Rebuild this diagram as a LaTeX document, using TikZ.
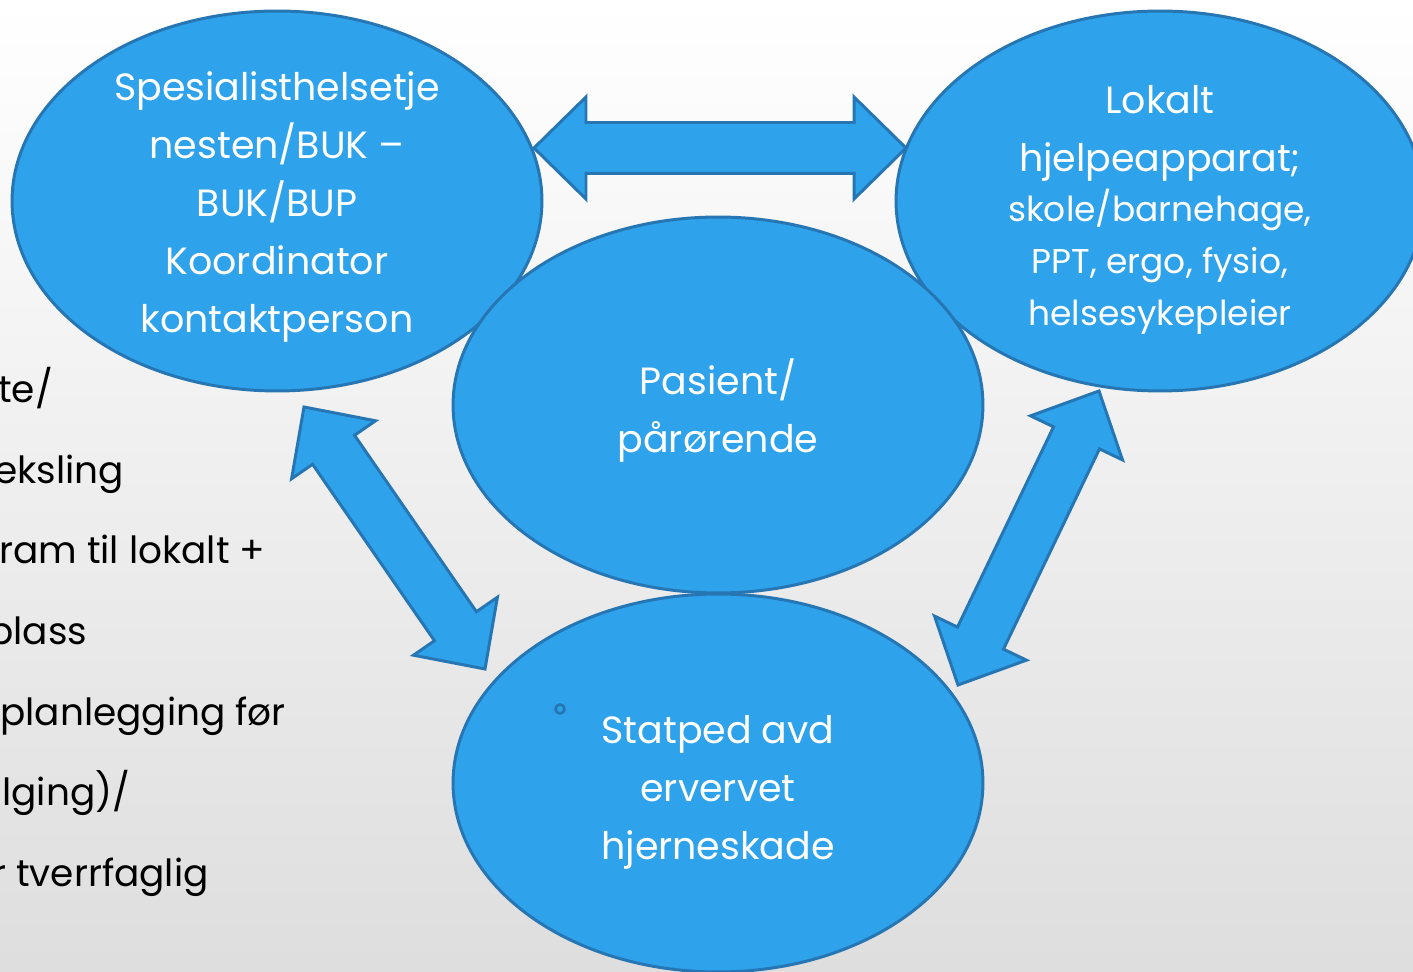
\documentclass[tikz,border=0pt]{standalone}
\usepackage{fontspec}
\setmainfont{Poppins}
\usetikzlibrary{shapes.geometric,calc,positioning}

\definecolor{bubblefill}{HTML}{2FA2EC}
\definecolor{bubbleline}{HTML}{2676B3}

\tikzset{
  bubble/.style={ellipse, draw=bubbleline, fill=bubblefill, line width=1.7pt,
                 inner sep=0pt, minimum width=10.6cm, minimum height=7.6cm},
  bubbletext/.style={text=white, align=center, inner sep=0pt,
                     font=\fontsize{21.6}{33}\selectfont},
  smalltext/.style={text=white, align=center, inner sep=0pt,
                    font=\fontsize{19.6}{29.6}\selectfont},
  sidetext/.style={text=black, anchor=base west, inner sep=0pt,
                   font=\fontsize{21.3}{24}\selectfont},
  arrowbody/.style={draw=bubbleline, fill=bubblefill, line width=1.7pt},
}

% double block arrow from tip #1 to tip #2
\newcommand{\dblarrow}[2]{%
  \draw[arrowbody] (#1)
    -- ($(#1)!1.04cm!(#2)!1.02cm!90:(#2)$)
    -- ($(#1)!1.04cm!(#2)!0.51cm!90:(#2)$)
    -- ($(#2)!1.04cm!(#1)!0.51cm!-90:(#1)$)
    -- ($(#2)!1.04cm!(#1)!1.02cm!-90:(#1)$)
    -- (#2)
    -- ($(#2)!1.04cm!(#1)!1.02cm!90:(#1)$)
    -- ($(#2)!1.04cm!(#1)!0.51cm!90:(#1)$)
    -- ($(#1)!1.04cm!(#2)!0.51cm!-90:(#2)$)
    -- ($(#1)!1.04cm!(#2)!1.02cm!-90:(#2)$)
    -- cycle;}

\begin{document}
\begin{tikzpicture}[x=0.02cm, y=0.02cm]
  \useasboundingbox (0,0) rectangle (1413,971);
  \shade[top color=white, bottom color=black!13] (0,0) rectangle (1413,971);

  % text on the left, cut by the page edge
  \foreach \txt/\dx [count=\i] in {{te/}/-2, {eksling}/-6, {ram til lokalt +}/-1,
      {plass}/-12, {planlegging før}/0, {lging)/}/2, {r tverrfaglig}/-8}
    \node[sidetext] (side\i) at (\dx, {971-403-80.5*(\i-1)}) {\txt};

  % the four parties
  \node[bubble] (spes) at (277,770) {};
  \node[bubble, minimum width=10.56cm] (lokalt) at (1160,770) {};
  \node[bubble, minimum height=7.52cm] (pasient) at (718,566) {};
  \node[bubble, minimum height=7.56cm] (statped) at (718,188) {};

  \node[bubbletext] (spestext) at (277,764)
    {Spesialisthelsetje\\nesten/BUK –\\BUK/BUP\\Koordinator\\kontaktperson};
  \node[bubbletext] (lokalttext) at (1160,838) {Lokalt\\hjelpeapparat;};
  \node[smalltext] (lokaltlist) at (1160,709)
    {skole/barnehage,\\PPT, ergo, fysio,\\helsesykepleier};
  \node[bubbletext] (pasienttext) at (718,560) {Pasient/\\pårørende};
  \node[bubbletext] (statpedtext) at (718,179) {Statped avd\\ervervet\\hjerneskade};
  \node[circle, draw=bubbleline, line width=1.5pt, minimum size=0.18cm,
        inner sep=0pt] (bullet) at (560,262) {};

  % arrow tips
  \coordinate (spesR) at (534,823);
  \coordinate (lokaltL) at (906,823);
  \coordinate (spesB) at (304,564);
  \coordinate (statpedL) at (485,302);
  \coordinate (lokaltB) at (1099,580);
  \coordinate (statpedR) at (958,286);

  \dblarrow{spesR}{lokaltL}
  \dblarrow{spesB}{statpedL}
  \dblarrow{lokaltB}{statpedR}
\end{tikzpicture}
\end{document}
